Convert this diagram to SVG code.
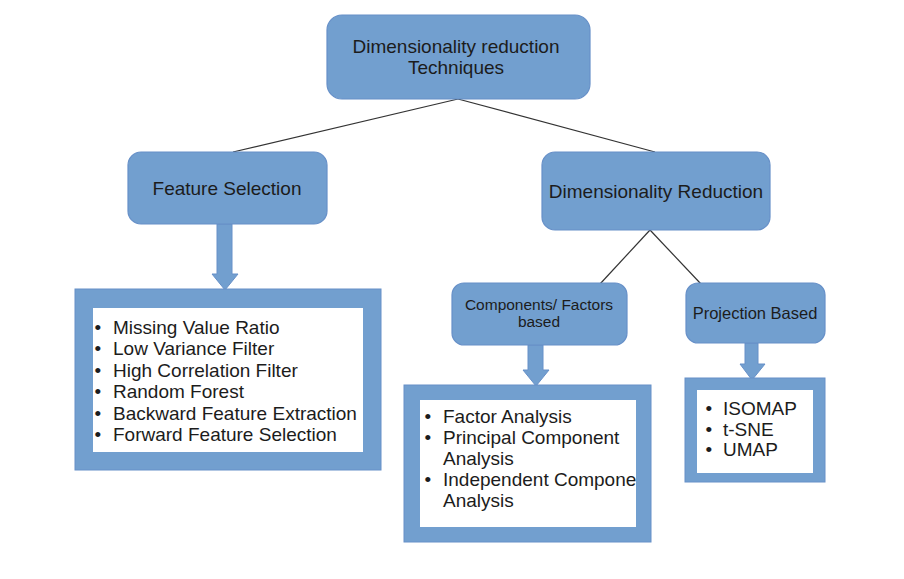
<svg xmlns="http://www.w3.org/2000/svg" width="904" height="579" viewBox="0 0 904 579">
<style>
  .node { fill: #729fcf; stroke: #6790c8; stroke-width: 1.2; }
  .frame { fill: #729fcf; stroke: #6790c8; stroke-width: 1; }
  .inner { fill: #ffffff; }
  .arrow { fill: #729fcf; stroke: #6790c8; stroke-width: 1; }
  .t { font-family: "Liberation Sans", Arial, sans-serif; fill: #1c1c1c; }
  .c { text-anchor: middle; }
  .conn { stroke: #333333; stroke-width: 1.2; fill: none; }
</style>
<rect width="904" height="579" fill="#ffffff"/>
<g id="connectors">
  <line class="conn" x1="458" y1="99" x2="233" y2="152"/>
  <line class="conn" x1="458" y1="99" x2="655" y2="152"/>
  <line class="conn" x1="650" y1="230" x2="600" y2="284"/>
  <line class="conn" x1="650" y1="230" x2="701" y2="284"/>
  <polygon class="arrow" points="217,224 232,224 232,274 238,274 225,290 212,274 217,274"/>
  <polygon class="arrow" points="528,345 543,345 543,370 549,370 536,386 523,370 528,370"/>
  <polygon class="arrow" points="745,343 758,343 758,364 765,364 752,380 740,364 745,364"/>
</g>
<g id="root">
  <rect class="node" x="327" y="15" width="263" height="84" rx="15"/>
  <text class="t c" x="456" y="53" font-size="19">Dimensionality reduction</text>
  <text class="t c" x="456" y="74" font-size="19">Techniques</text>
</g>
<g id="feature-selection">
  <rect class="node" x="128" y="152" width="199" height="72" rx="13"/>
  <text class="t c" x="227" y="195" font-size="19">Feature Selection</text>
</g>
<g id="dimensionality-reduction">
  <rect class="node" x="542" y="152" width="228" height="78" rx="13"/>
  <text class="t c" x="656" y="198" font-size="19">Dimensionality Reduction</text>
</g>
<g id="components-factors">
  <rect class="node" x="452" y="283" width="175" height="62" rx="12"/>
  <text class="t c" x="539" y="310" font-size="15.5">Components/ Factors</text>
  <text class="t c" x="539" y="327" font-size="15.5">based</text>
</g>
<g id="projection-based">
  <rect class="node" x="686" y="283" width="139" height="60" rx="12"/>
  <text class="t c" x="755" y="319" font-size="16.5">Projection Based</text>
</g>
<g id="feature-list">
  <rect class="frame" x="75" y="289" width="306" height="181"/>
  <rect class="inner" x="93" y="308" width="270" height="144"/>
  <g class="t" font-size="19">
    <text x="94.5" y="334">•</text><text x="113" y="334">Missing Value Ratio</text>
    <text x="94.5" y="355.4">•</text><text x="113" y="355.4">Low Variance Filter</text>
    <text x="94.5" y="376.8">•</text><text x="113" y="376.8">High Correlation Filter</text>
    <text x="94.5" y="398.2">•</text><text x="113" y="398.2">Random Forest</text>
    <text x="94.5" y="419.6">•</text><text x="113" y="419.6">Backward Feature Extraction</text>
    <text x="94.5" y="441">•</text><text x="113" y="441">Forward Feature Selection</text>
  </g>
</g>
<g id="components-list">
  <rect class="frame" x="404" y="385" width="247" height="157"/>
  <rect class="inner" x="420" y="400" width="216" height="127"/>
  <g class="t" font-size="19">
    <text x="424.5" y="423">•</text><text x="443" y="423">Factor Analysis</text>
    <text x="424.5" y="444">•</text><text x="443" y="444">Principal Component</text>
    <text x="443" y="465">Analysis</text>
    <text x="424.5" y="486">•</text><text x="443" y="486">Independent Compone</text>
    <text x="443" y="507">Analysis</text>
  </g>
</g>
<g id="projection-list">
  <rect class="frame" x="685" y="378" width="140" height="104"/>
  <rect class="inner" x="697" y="390" width="116" height="83"/>
  <g class="t" font-size="19">
    <text x="705.5" y="415">•</text><text x="723" y="415">ISOMAP</text>
    <text x="705.5" y="435.5">•</text><text x="723" y="435.5">t-SNE</text>
    <text x="705.5" y="456">•</text><text x="723" y="456">UMAP</text>
  </g>
</g>
</svg>
